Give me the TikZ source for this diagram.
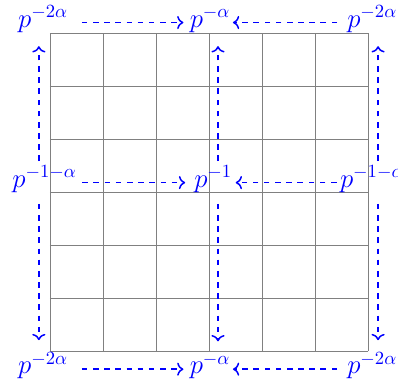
\documentclass[tikz,border=0pt]{standalone}
\usepackage{amsmath,amssymb}
\usepackage{xcolor}
\usepackage{tikz}
\usetikzlibrary{arrows.meta}

\begin{document}
\begin{tikzpicture}[
  line width=0.8pt,
  L/.style={text=blue, font=\Large, inner sep=1pt, anchor=base},
  D/.style={->, dashed, blue},
]
\useasboundingbox (-0.943,-0.660) rectangle (6.566,6.623);

%--- GRID ---
\draw[gray, line width=0.4pt] (0,0) grid (6,6);

%--- WEIGHTS ---
\node[L] (tl) at (-0.13,6.11) {$p^{-2\alpha}$};
\node[L] (tm) at ( 3.02,6.11) {$p^{-\alpha}$};
\node[L] (tr) at ( 6.08,6.11) {$p^{-2\alpha}$};
\node[L] (ml) at (-0.10,3.09) {$p^{-1-\alpha}$};
\node[L] (mc) at ( 3.08,3.09) {$p^{-1}$};
\node[L] (mr) at ( 6.08,3.09) {$p^{-1-\alpha}$};
\node[L] (bl) at (-0.13,-0.43) {$p^{-2\alpha}$};
\node[L] (bm) at ( 3.02,-0.43) {$p^{-\alpha}$};
\node[L] (br) at ( 6.08,-0.43) {$p^{-2\alpha}$};

%--- COLUMNS OF THE VERTICAL ARROWS ---
\coordinate (cL) at (-0.21,0);
\coordinate (cC) at ( 3.17,0);
\coordinate (cR) at ( 6.19,0);

%--- HORIZONTAL ARROWS ---
\foreach \a/\b in {tl/tm, bl/bm}
  \draw[D, shorten <=6pt, shorten >=2pt]
    ([yshift=2.5pt]\a.base east) -- ([yshift=2.5pt]\b.base west);
\foreach \a/\b in {tr/tm, br/bm}
  \draw[D, shorten <=4pt, shorten >=0pt]
    ([yshift=2.5pt]\a.base west) -- ([yshift=2.5pt]\b.base east);
\draw[D, shorten <=1.5pt, shorten >=3.5pt]
  ([yshift=2.5pt]ml.base east) -- ([yshift=2.5pt]mc.base west);
\draw[D, shorten <=0.5pt, shorten >=0.5pt]
  ([yshift=2.5pt]mr.base west) -- ([yshift=2.5pt]mc.base east);

%--- VERTICAL ARROWS ---
\foreach \c/\m/\t/\u in {cL/ml/tl/bl, cC/mc/tm/bm, cR/mr/tr/br}{
  \draw[D, shorten <=1pt, shorten >=6pt] (\m.north -| \c) -- (\t.south -| \c);
  \draw[D, shorten <=4.7pt, shorten >=5pt] (\m.south -| \c) -- (\u.north -| \c);
}
\end{tikzpicture}
\end{document}
